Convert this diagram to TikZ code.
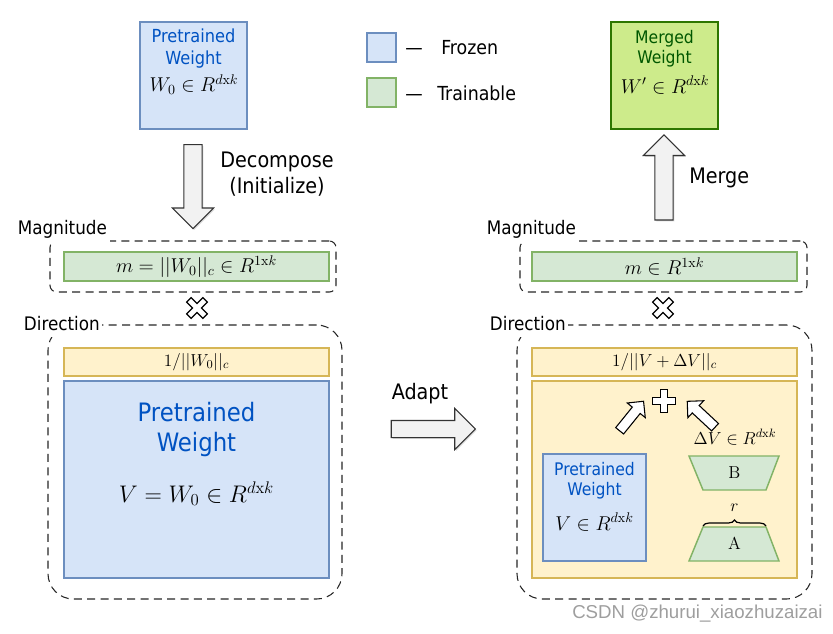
\documentclass[tikz,border=0pt]{standalone}
\usepackage{fix-cm}
\usepackage[no-math]{fontspec}
\setmainfont{DejaVu Sans Condensed}
\newfontfamily\markfont{Liberation Sans}
\usepackage{tikz}
\usepackage{xcolor}
\usetikzlibrary{shapes.arrows,shadows,decorations.pathreplacing}

\definecolor{frozenfill}{HTML}{D6E4F8}
\definecolor{frozenline}{HTML}{6C8EBF}
\definecolor{trainfill}{HTML}{D5E8D4}
\definecolor{trainline}{HTML}{82B366}
\definecolor{normfill}{HTML}{FFF2CC}
\definecolor{normline}{HTML}{D6B656}
\definecolor{mergefill}{HTML}{CDEB8B}
\definecolor{mergeline}{HTML}{2D7600}
\definecolor{mergetext}{HTML}{005700}
\definecolor{weighttext}{HTML}{0052C2}
\definecolor{arrowfill}{HTML}{F2F2F2}

\tikzset{
  frozen/.style={draw=frozenline, fill=frozenfill, line width=1.1pt, inner sep=0pt},
  trainable/.style={draw=trainline, fill=trainfill, line width=1.1pt, inner sep=0pt},
  normbox/.style={draw=normline, fill=normfill, line width=1.1pt, inner sep=0pt},
  merged/.style={draw=mergeline, fill=mergefill, line width=1.1pt, inner sep=0pt},
  boxsize/.style 2 args={minimum width=#1*0.75pt, minimum height=#2*0.75pt},
  groupbox/.style={draw=black!85, line width=0.8pt, dash pattern=on 6pt off 4pt, inner sep=0pt},
  grouplabel/.style={fill=white, inner xsep=2pt, inner ysep=4pt, font=\fontsize{14}{16}\selectfont},
  steplabel/.style={inner sep=0.75pt, align=center, font=\fontsize{16}{20}\selectfont},
  blockarrow/.style={single arrow, draw=black!80, fill=arrowfill, line width=0.8pt, inner xsep=0pt,
    single arrow head indent=0pt, drop shadow={shadow xshift=1pt, shadow yshift=-1pt, opacity=0.3}},
  smallarrow/.style={single arrow, draw=black, fill=white, line width=0.8pt, inner xsep=0pt,
    inner ysep=3.4pt, single arrow head extend=4.9pt, single arrow head indent=0pt, minimum height=28.5pt},
  lowrank/.style={draw=trainline, fill=trainfill, line width=1.1pt},
  plussign/.pic={\draw[fill=white, line width=0.9pt] (-3.2,-11.5) -- (3.2,-11.5) -- (3.2,-3.2) -- (11.5,-3.2) -- (11.5,3.2) -- (3.2,3.2) -- (3.2,11.5) -- (-3.2,11.5) -- (-3.2,3.2) -- (-11.5,3.2) -- (-11.5,-3.2) -- (-3.2,-3.2) -- cycle;}
}

\begin{document}
\begin{tikzpicture}[x=0.75pt,y=0.75pt,yscale=-1,xscale=1]
\useasboundingbox (0,0) rectangle (833,633);

%Pretrained weight (top)
\node[frozen, boxsize={107}{107}] (pw) at (193.5,75.5) {};
\node[text=weighttext, align=center, inner sep=0.75pt, font=\fontsize{13.5}{16.5}\selectfont] (pwlabel) at (193.5,49) {Pretrained\\Weight};
\node[inner sep=0.75pt, font=\fontsize{15}{18}\selectfont] (pwmath) at (194,85) {$W_0\in R^{d\mathrm{x}k}$};

%Legend
\node[frozen, boxsize={29}{29}] (frozenkey) at (381.5,47.5) {};
\node[anchor=west, inner sep=0.75pt, font=\fontsize{14.5}{17}\selectfont] (frozentext) at (404,48) {—\hspace{14pt}Frozen};
\node[trainable, boxsize={29}{29}] (trainkey) at (381.5,92.5) {};
\node[anchor=west, inner sep=0.75pt, font=\fontsize{14.5}{17}\selectfont] (traintext) at (404,93) {—\hspace{11pt}Trainable};

%Decompose
\node[blockarrow, minimum height=84*0.75pt, inner ysep=6.4pt, single arrow head extend=8.6pt, rotate=-90] (decompose) at (193,182) {};
\node[steplabel] (decomposetext) at (277,174) {Decompose\\(Initialize)};

%Magnitude (left)
\node[groupbox, boxsize={286}{51}, rounded corners=5pt] (magleftgroup) at (193,266.5) {};
\node[grouplabel, anchor=west] (magleftlabel) at (15,229) {Magnitude};
\node[trainable, boxsize={265}{29}, font=\fontsize{15}{18}\selectfont] (magleft) at (196.5,266.5) {$m=||W_0||_c\in R^{1\mathrm{x}k}$};
\pic[rotate=45] at (197,308) {plussign};

%Direction (left)
\node[groupbox, boxsize={294}{274}, rounded corners=19pt] (dirleftgroup) at (195,462) {};
\node[grouplabel, anchor=west] (dirleftlabel) at (21,324) {Direction};
\node[normbox, boxsize={265}{28}, font=\fontsize{13}{15}\selectfont] (normleft) at (196.5,362) {$1/||W_0||_c$};
\node[frozen, boxsize={265}{197}] (dirleft) at (196.5,479.5) {};
\node[text=weighttext, align=center, inner sep=0.75pt, font=\fontsize{19}{22.5}\selectfont] (dirlefttext) at (196.5,430) {Pretrained\\Weight};
\node[inner sep=0.75pt, font=\fontsize{18}{21}\selectfont] (dirleftmath) at (196.5,494) {$V=W_0\in R^{d\mathrm{x}k}$};

%Adapt
\node[blockarrow, minimum height=84*0.75pt, inner ysep=6pt, single arrow head extend=9pt] (adapt) at (429,429) {};
\node[steplabel] (adapttext) at (420,394) {Adapt};

%Merged weight (top)
\node[merged, boxsize={107}{107}] (mw) at (664.5,75.5) {};
\node[text=mergetext, align=center, inner sep=0.75pt, font=\fontsize{13}{15}\selectfont] (mwlabel) at (664.5,49) {Merged\\Weight};
\node[inner sep=0.75pt, font=\fontsize{15}{18}\selectfont] (mwmath) at (665,85) {$W'\in R^{d\mathrm{x}k}$};

%Merge
\node[blockarrow, minimum height=85*0.75pt, inner ysep=6.4pt, single arrow head extend=8.6pt, rotate=90] (merge) at (664,182) {};
\node[steplabel, anchor=west] (mergetext) at (688,178) {Merge};

%Magnitude (right)
\node[groupbox, boxsize={287}{51}, rounded corners=5pt] (magrightgroup) at (663.5,266.5) {};
\node[grouplabel, anchor=west] (magrightlabel) at (484,229) {Magnitude};
\node[trainable, boxsize={265}{29}, font=\fontsize{15}{18}\selectfont] (magright) at (664.5,266.5) {$m\in R^{1\mathrm{x}k}$};
\pic[rotate=45] at (663,308) {plussign};

%Direction (right)
\node[groupbox, boxsize={295}{274}, rounded corners=19pt] (dirrightgroup) at (664.5,462) {};
\node[grouplabel, anchor=west] (dirrightlabel) at (487,324) {Direction};
\node[normbox, boxsize={265}{28}, font=\fontsize{13}{15}\selectfont] (normright) at (664.5,362) {$1/||V+\Delta V||_c$};
\node[normbox, boxsize={265}{197}] (dirright) at (664.5,479.5) {};
\pic at (664,401) {plussign};
\node[smallarrow, rotate=51] (leftadd) at (630,418) {};
\node[smallarrow, rotate=137] (rightadd) at (703,416) {};
\node[inner sep=0.75pt, font=\fontsize{13}{15}\selectfont] (deltav) at (735,437) {$\Delta V\in R^{d\mathrm{x}k}$};

%Pretrained weight (small)
\node[frozen, boxsize={103}{107}] (pwsmall) at (594.5,507.5) {};
\node[text=weighttext, align=center, inner sep=0.75pt, font=\fontsize{13}{15}\selectfont] (pwsmalltext) at (594.5,481) {Pretrained\\Weight};
\node[inner sep=0.75pt, font=\fontsize{15}{18}\selectfont] (pwsmallmath) at (594.5,522) {$V\in R^{d\mathrm{x}k}$};

%Low rank B and A
\draw[lowrank] (689,456) -- (779,456) -- (766,490) -- (703,490) -- cycle;
\node[inner sep=0.75pt, font=\fontsize{13}{15}\selectfont] (lowb) at (734.5,473) {$\mathrm{B}$};
\draw[lowrank] (703,527) -- (766,527) -- (779,561) -- (689,561) -- cycle;
\node[inner sep=0.75pt, font=\fontsize{13}{15}\selectfont] (lowa) at (734.5,544) {$\mathrm{A}$};
\draw[line width=0.9pt, decorate, decoration={brace, amplitude=4.5pt}] (703,526) -- (766,526);
\node[inner sep=0.75pt, font=\fontsize{13}{15}\selectfont] (rank) at (734.5,508) {$r$};

%Watermark
\node[anchor=west, inner sep=0.75pt, text=black!38, font=\markfont\fontsize{14}{16}\selectfont] (mark) at (571,614) {CSDN @zhurui\_xiaozhuzaizai};

\end{tikzpicture}
\end{document}
